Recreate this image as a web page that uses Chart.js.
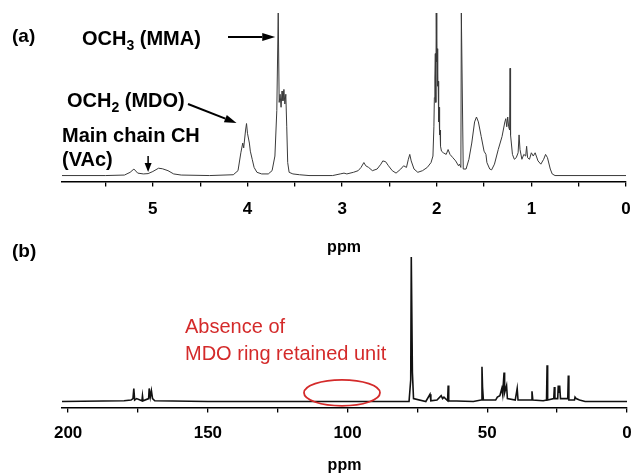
<!DOCTYPE html>
<html>
<head>
<meta charset="utf-8">
<script src="https://cdn.jsdelivr.net/npm/chart.js@4.4.1/dist/chart.umd.min.js"></script>
<style>
    html, body { margin: 0; padding: 0; background: #fff; }
    #wrap { position: relative; width: 632px; height: 475px; overflow: hidden; }
    #chartH { position: absolute; left: 0; top: 0; }
    #chartC { position: absolute; left: 0; top: 255px; }
</style>
</head>
<body>
<div id="wrap">
    <canvas id="chartH" width="632" height="265"></canvas>
    <canvas id="chartC" width="632" height="220"></canvas>
</div>
<script>
/*-------------------- 数据 (a) 1H NMR --------------------*/
var hPpm = [5.96, 5.5, 5.3, 5.24, 5.2, 5.16, 5.1, 5.05, 5.0, 4.94, 4.9, 4.84, 4.78, 4.7, 4.4,
    4.15, 4.1, 4.07, 4.05, 4.04, 4.02, 4.01, 4.0, 3.98, 3.97, 3.95, 3.93, 3.9, 3.85, 3.78,
    3.74, 3.71, 3.69, 3.675, 3.665, 3.655, 3.645, 3.635, 3.625, 3.615, 3.605, 3.595, 3.585, 3.575, 3.56,
    3.52, 3.45, 3.35, 3.1, 3.02, 2.98, 2.95, 2.88, 2.83, 2.8, 2.77, 2.75, 2.72, 2.68,
    2.63, 2.59, 2.57, 2.54, 2.51, 2.47, 2.43, 2.38, 2.35, 2.32, 2.3, 2.285, 2.27, 2.24,
    2.2, 2.15, 2.1, 2.06, 2.04, 2.03, 2.025, 2.02, 2.015, 2.01, 2.005, 2.0, 1.995, 1.99,
    1.985, 1.98, 1.975, 1.97, 1.965, 1.96, 1.95, 1.93, 1.9, 1.88, 1.86, 1.83, 1.8, 1.77,
    1.76, 1.745, 1.74, 1.72, 1.69, 1.66, 1.63, 1.6, 1.58, 1.56, 1.53, 1.5, 1.48, 1.47,
    1.44, 1.42, 1.39, 1.35, 1.31, 1.28, 1.27, 1.26, 1.25, 1.24, 1.23, 1.225, 1.22, 1.2,
    1.18, 1.16, 1.14, 1.13, 1.12, 1.1, 1.08, 1.06, 1.05, 1.04, 1.02, 1.0, 0.98, 0.96,
    0.93, 0.9, 0.87, 0.85, 0.83, 0.8, 0.78, 0.75, 0];
var hInt = [0, 0, 0.003, 0.02, 0.04, 0.015, 0.01, 0.012, 0.025, 0.045, 0.042, 0.03, 0.01, 0.003, 0,
    0.005, 0.03, 0.14, 0.2, 0.17, 0.28, 0.32, 0.26, 0.2, 0.15, 0.1, 0.05, 0.02, 0.01, 0.01,
    0.03, 0.12, 0.4, 1.0, 0.45, 0.5, 0.42, 0.52, 0.46, 0.53, 0.44, 0.5, 0.3, 0.08, 0.02,
    0.01, 0.005, 0, 0, 0.01, 0.015, 0.01, 0.02, 0.03, 0.05, 0.08, 0.06, 0.05, 0.03,
    0.04, 0.07, 0.09, 0.085, 0.06, 0.03, 0.015, 0.04, 0.06, 0.05, 0.1, 0.13, 0.09, 0.04,
    0.02, 0.03, 0.05, 0.08, 0.12, 0.3, 0.48, 0.6, 0.75, 0.45, 1.0, 0.7, 0.78, 0.55,
    0.58, 0.33, 0.42, 0.25, 0.28, 0.18, 0.15, 0.14, 0.13, 0.16, 0.13, 0.11, 0.09, 0.06,
    0.07, 0.05, 1.0, 0.04, 0.04, 0.1, 0.2, 0.33, 0.36, 0.33, 0.24, 0.15, 0.13, 0.08,
    0.04, 0.035, 0.07, 0.16, 0.24, 0.33, 0.35, 0.3, 0.36, 0.3, 0.28, 0.66, 0.25, 0.13,
    0.1, 0.11, 0.14, 0.25, 0.16, 0.1, 0.13, 0.12, 0.18, 0.11, 0.1, 0.14, 0.12, 0.14,
    0.09, 0.07, 0.1, 0.13, 0.11, 0.04, 0.01, 0, 0];
var hTicks = [0, 1, 2, 3, 4, 5];

/*-------------------- 数据 (b) 13C NMR --------------------*/
var cPpm = [202.2, 180, 177.5, 176.8, 176.5, 176.2, 175.5, 173.6, 173.4, 173.2, 171.2, 171, 170.6, 170.2,
    169.8, 169, 150, 78, 77.4, 77.2, 76.8, 76.4, 72, 70.5, 70.2, 68, 66.5, 66, 65.5, 64.2,
    64, 63.8, 55, 52.2, 51.9, 51.7, 51.4, 47, 46.4, 45.5, 44.8, 44.5, 44, 43.8, 43.1,
    42.8, 40, 39.3, 39, 34.3, 34, 33.7, 30, 28.8, 28.6, 28.4, 26.2, 26, 25.8, 24.8,
    24.6, 24.4, 24.1, 23.8, 21.2, 21, 20.8, 18.8, 18.6, 18.2, 17, 15, 0];
var cInt = [0, 0.005, 0.01, 0.02, 0.09, 0.01, 0.02, 0.005, 0.04, 0.005, 0.02, 0.09, 0.03, 0.075,
    0.02, 0.005, 0, 0, 0.15, 1.0, 0.2, 0.02, 0, 0.05, 0.005, 0.01, 0.04, 0.02, 0.03, 0.005,
    0.11, 0.005, 0, 0.01, 0.24, 0.1, 0.01, 0.01, 0.03, 0.04, 0.09, 0.05, 0.2, 0.06, 0.11,
    0.02, 0.01, 0.09, 0.01, 0.01, 0.07, 0.01, 0.005, 0.01, 0.25, 0.01, 0.02, 0.1, 0.02, 0.02,
    0.11, 0.06, 0.11, 0.02, 0.02, 0.18, 0.01, 0.01, 0.03, 0.02, 0.01, 0, 0];
var cTicks = [0, 50, 100, 150, 200];

var FONT = '"Liberation Sans", Arial, Helvetica, sans-serif';

//把两个数组组合成点
function toPoints(xs, ys) {
    var pts = [];
    for (var i = 0; i < xs.length; i++) {
        pts.push({x: xs[i], y: ys[i]});
    }
    return pts;
}

//画箭头
function drawArrow(ctx, x1, y1, x2, y2, headLen, headW) {
    var ang = Math.atan2(y2 - y1, x2 - x1),
        bx = x2 - headLen * Math.cos(ang),
        by = y2 - headLen * Math.sin(ang);
    ctx.beginPath();
    ctx.moveTo(x1, y1);
    ctx.lineTo(bx, by);
    ctx.stroke();
    ctx.beginPath();
    ctx.moveTo(x2, y2);
    ctx.lineTo(bx + headW * Math.sin(ang), by - headW * Math.cos(ang));
    ctx.lineTo(bx - headW * Math.sin(ang), by + headW * Math.cos(ang));
    ctx.closePath();
    ctx.fill();
}

//带下标的文字 OCH3 (MMA)
function drawSubText(ctx, x, y, main, sub, rest, size) {
    ctx.font = 'bold ' + size + 'px ' + FONT;
    ctx.fillText(main, x, y);
    x += ctx.measureText(main).width;
    ctx.font = 'bold ' + Math.round(size * 0.68) + 'px ' + FONT;
    ctx.fillText(sub, x, y + 5);
    x += ctx.measureText(sub).width;
    ctx.font = 'bold ' + size + 'px ' + FONT;
    ctx.fillText(rest, x, y);
}

function tickLabel(list) {
    return function (value) {
        for (var i = 0; i < list.length; i++) {
            if (Math.abs(list[i] - value) < 1e-6) return String(list[i]);
        }
        return '';
    };
}

function axisOptions(min, max, step, labels, tickPad, titlePad) {
    return {
        type: 'linear',
        reverse: true,
        min: min,
        max: max,
        //不要给首尾刻度文字额外留白
        afterFit: function (scale) {
            scale.paddingLeft = 0;
            scale.paddingRight = 0;
        },
        border: {display: true, color: '#000', width: 1.6},
        grid: {display: true, drawOnChartArea: false, drawTicks: true, tickLength: 5, color: '#000', lineWidth: 1.3},
        ticks: {
            stepSize: step,
            includeBounds: false,
            autoSkip: false,
            maxRotation: 0,
            padding: tickPad,
            color: '#000',
            font: {family: FONT, size: 17, weight: 'bold'},
            callback: tickLabel(labels)
        },
        title: {
            display: true,
            text: 'ppm',
            color: '#000',
            font: {family: FONT, size: 16, weight: 'bold'},
            padding: {top: titlePad, bottom: 0}
        }
    };
}

//(a) 图上的标注
var hNotes = {
    id: 'hNotes',
    afterDraw: function (chart) {
        var ctx = chart.ctx,
            xs = chart.scales.x;
        ctx.save();
        ctx.fillStyle = '#000';
        ctx.strokeStyle = '#000';
        ctx.textBaseline = 'alphabetic';
        ctx.textAlign = 'left';

        ctx.font = 'bold 19px ' + FONT;
        ctx.fillText('(a)', 12, 42);
        ctx.fillText('(b)', 12, 257);

        drawSubText(ctx, 82, 45, 'OCH', '3', ' (MMA)', 20);
        drawSubText(ctx, 67, 107, 'OCH', '2', ' (MDO)', 20);

        ctx.font = 'bold 20px ' + FONT;
        ctx.fillText('Main chain CH', 62, 142);
        ctx.fillText('(VAc)', 62, 166);

        ctx.lineWidth = 2;
        drawArrow(ctx, 228, 37, xs.getPixelForValue(3.675) - 3, 37, 13, 4);
        drawArrow(ctx, 188, 104, xs.getPixelForValue(4.01) - 10, 123, 12, 4);
        ctx.lineWidth = 1.5;
        drawArrow(ctx, xs.getPixelForValue(5.05), 156, xs.getPixelForValue(5.05), 172, 9, 3.5);
        ctx.restore();
    }
};

//(b) 图上的标注
var cNotes = {
    id: 'cNotes',
    afterDraw: function (chart) {
        var ctx = chart.ctx,
            xs = chart.scales.x,
            ys = chart.scales.y;
        ctx.save();
        ctx.fillStyle = '#d42a2a';
        ctx.strokeStyle = '#d42a2a';
        ctx.font = '20px ' + FONT;
        ctx.textBaseline = 'alphabetic';
        ctx.fillText('Absence of', 185, 78);
        ctx.fillText('MDO ring retained unit', 185, 105);
        ctx.lineWidth = 1.8;
        ctx.beginPath();
        ctx.ellipse(xs.getPixelForValue(102), ys.getPixelForValue(0.06), 38, 13, 0, 0, Math.PI * 2);
        ctx.stroke();
        ctx.restore();
    }
};

//通用的 chart 选项
function makeChart(id, pts, lineColor, lineW, xOpt, yMin, pad, plugin) {
    var ctx = document.getElementById(id).getContext('2d');
    return new Chart(ctx, {
        type: 'line',
        data: {
            datasets: [{
                data: pts,
                borderColor: lineColor,
                borderWidth: lineW,
                pointRadius: 0,
                tension: 0,
                fill: false
            }]
        },
        options: {
            responsive: false,
            animation: false,
            devicePixelRatio: 1,
            layout: {padding: pad},
            plugins: {legend: {display: false}, tooltip: {enabled: false}, title: {display: false}},
            scales: {
                x: xOpt,
                y: {display: false, min: yMin, max: 1.0}
            }
        },
        plugins: [plugin]
    });
}

makeChart('chartH', toPoints(hPpm, hInt), '#3a3a3a', 1,
    axisOptions(0, 5.96, 0.5, hTicks, 13, 5), -0.036,
    {top: 13, left: 62, right: 6, bottom: 8}, hNotes);

makeChart('chartC', toPoints(cPpm, cInt), '#111', 1.6,
    axisOptions(0, 202.2, 25, cTicks, 11, 1), -0.041,
    {top: 2, left: 62, right: 5, bottom: 0}, cNotes);
</script>
</body>
</html>
